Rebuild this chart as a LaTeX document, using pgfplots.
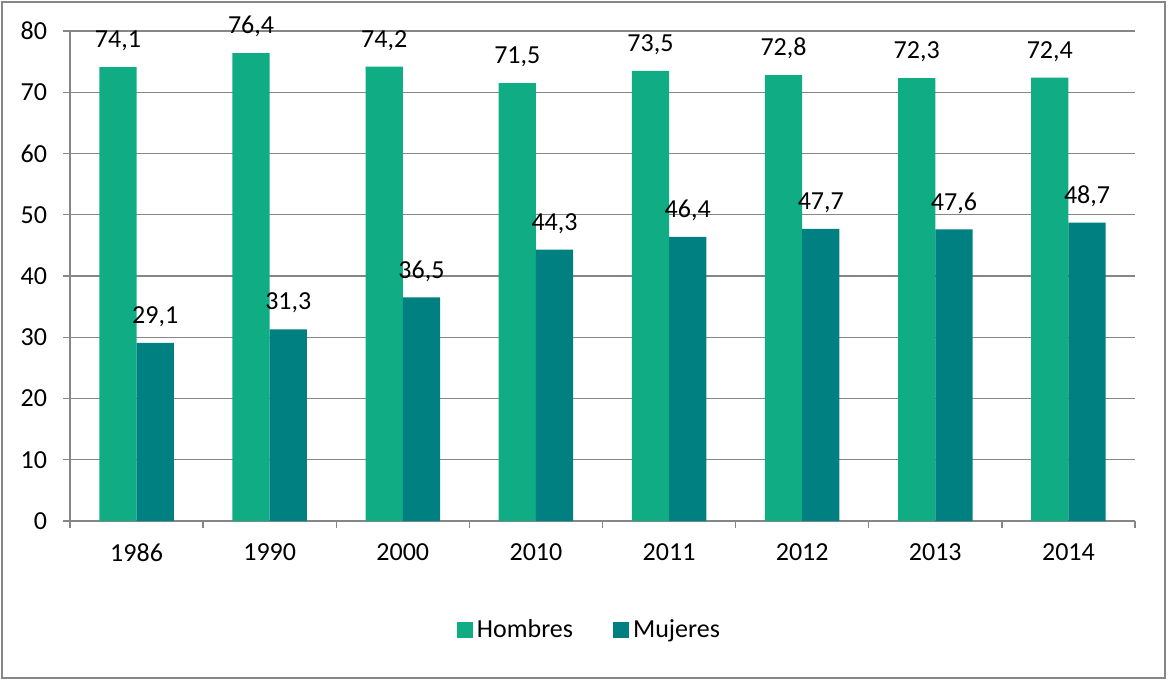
\documentclass[border=0pt]{standalone}
\usepackage{fontspec}
\setmainfont{Carlito}
\usepackage{pgfplots}
\pgfplotsset{compat=1.18}
\definecolor{hombres}{RGB}{16,172,132}
\definecolor{mujeres}{RGB}{0,128,128}
\definecolor{axgray}{RGB}{134,134,134}
\pgfplotsset{sqleg/.style={legend image code/.code={\fill[##1] (0pt,-4pt) rectangle (8pt,4pt);}}}
\begin{document}
\begin{tikzpicture}
\useasboundingbox (0,0) rectangle (584.5pt,340.5pt);
\draw[axgray, line width=0.7pt] (1pt,1.5pt) rectangle (582.5pt,339.5pt);
\begin{axis}[
  at={(35pt,80pt)}, anchor=south west,
  scale only axis, width=532.5pt, height=245pt,
  xmin=-0.5, xmax=7.5, ymin=0, ymax=80,
  axis lines*=left,
  axis line style={draw=axgray, line width=0.7pt},
  ymajorgrids, grid style={draw=axgray, line width=0.7pt},
  ytick={0,10,...,80},
  xtick={-0.5,0.5,...,7.5}, xticklabels={},
  extra x ticks={0,1,2,3,4,5,6,7},
  extra x tick labels={1986,1990,2000,2010,2011,2012,2013,2014},
  extra x tick style={grid=none, tick style={draw=none}, xticklabel style={yshift=-4.5pt}},
  tick align=outside, major tick length=3.5pt,
  tick style={draw=axgray, line width=0.7pt},
  /pgf/number format/assume math mode=true,
  ticklabel style={font=\fontsize{13}{15}\selectfont, text=black},
  yticklabel style={xshift=-4.5pt},
  clip=false,
  nodes near coords={\pgfmathprintnumber[fixed,fixed zerofill,precision=1,use comma,assume math mode=true]{\pgfplotspointmeta}},
  nodes near coords style={font=\fontsize{13}{15}\selectfont, inner sep=0pt, text depth=0pt, yshift=9.5pt, anchor=south},
  legend style={at={(0.4887,-0.2224)}, anchor=center, draw=none, legend columns=2,
    font=\fontsize{13}{15}\selectfont,
    /tikz/every even column/.append style={column sep=18pt}},
]
\addplot[ybar, bar width=0.28, bar shift=0, fill=hombres, draw=none, sqleg]
  coordinates {(-0.14,74.1) (0.86,76.4) (1.86,74.2) (2.86,71.5) (3.86,73.5) (4.86,72.8) (5.86,72.3) (6.86,72.4)};
\addlegendentry{Hombres}
\addplot[ybar, bar width=0.28, bar shift=0, fill=mujeres, draw=none, sqleg]
  coordinates {(0.14,29.1) (1.14,31.3) (2.14,36.5) (3.14,44.3) (4.14,46.4) (5.14,47.7) (6.14,47.6) (7.14,48.7)};
\addlegendentry{Mujeres}
\end{axis}
\end{tikzpicture}
\end{document}
